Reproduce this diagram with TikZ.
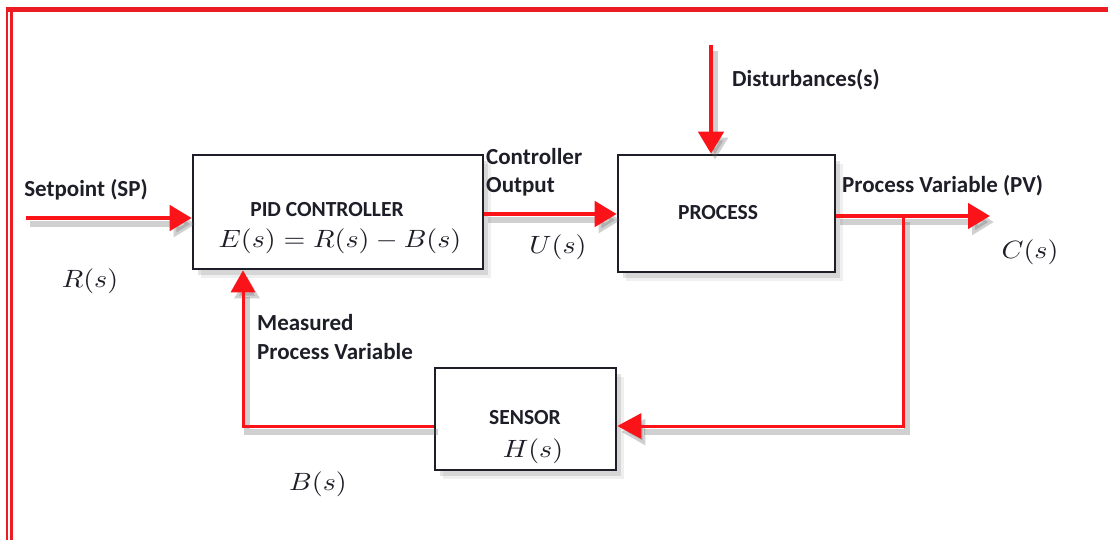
\documentclass[tikz,border=0pt]{standalone}
\usepackage{fontspec}
\setmainfont{Carlito}
\usetikzlibrary{arrows.meta,shadows}
\definecolor{linered}{RGB}{250,20,26}
\definecolor{framered}{RGB}{236,28,36}
\definecolor{inkdark}{RGB}{30,30,40}
% math set at 10pt and enlarged, a little wider than tall
\newcommand\mth[1]{\scalebox{2.8}[2.5]{$#1$}}
\tikzset{
  blk/.style={draw=inkdark, line width=2.6pt, fill=white,
    drop shadow={shadow xshift=8pt,shadow yshift=-9pt,opacity=.12},
    drop shadow={shadow xshift=5pt,shadow yshift=-6pt,opacity=.22}},
  title/.style={text=inkdark, font=\fontsize{21.5}{24}\selectfont\bfseries, inner sep=0pt},
  lbl/.style={text=inkdark, font=\fontsize{23}{28.5}\selectfont\bfseries, inner sep=0pt, align=left},
  mathlbl/.style={text=inkdark, inner sep=0pt},
  lineshade/.style={preaction={draw=black!60, opacity=.3, line width=5.5pt,
    transform canvas={xshift=4pt,yshift=-6pt}}},
  flow/.style={draw=linered, line width=4.5pt, lineshade,
    -{Triangle[length=22pt,width=25pt]}},
  fb/.style={draw=linered, line width=3pt, lineshade},
  fbarrow/.style={fb, -{Triangle[length=24pt,width=25pt]}},
}
\begin{document}
\begin{tikzpicture}[x=1pt,y=-1pt]
\useasboundingbox (0,0) rectangle (1108,540);
\fill[white] (0,0) rectangle (1108,540);

% frame along the left and top edges
\draw[framered, line width=1.5pt] (7,8) -- (7,540);
\draw[framered, line width=3.6pt] (11.5,8) -- (11.5,540);
\draw[framered, line width=5.5pt] (6.2,9.5) -- (1108,9.5);

% blocks
\node[blk, minimum width=290pt, minimum height=114pt] (pid) at (338,212) {};
\node[blk, minimum width=217pt, minimum height=117pt] (proc) at (726.5,213.5) {};
\node[blk, minimum width=181pt, minimum height=102pt] (sen) at (525.5,419) {};

\node[title] (pidtitle) at (327,210) {PID CONTROLLER};
\node[mathlbl] (pideq) at (340,241) {\mth{E(s)=R(s)-B(s)}};
\node[title] (proctitle) at (718,213) {PROCESS};
\node[title] (sentitle) at (525,418) {SENSOR};
\node[mathlbl] (senH) at (533,451) {\mth{H(s)}};

% reference input
\coordinate (spstart) at (26,218);
\draw[flow] (spstart) -- (spstart -| pid.west);
\node[lbl] (splbl) at (86,190) {Setpoint (SP)};
\node[mathlbl] (rs) at (90,281) {\mth{R(s)}};

% controller output
\draw[flow] ([yshift=-2pt]pid.east) -- ([yshift=-2pt]pid.east -| proc.west);
\node[lbl, anchor=west] (colbl) at (486,172) {Controller\\Output};
\node[mathlbl] (us) at (558,247) {\mth{U(s)}};

% disturbance input
\coordinate (dstart) at (711,45);
\draw[flow] (dstart) -- (dstart |- proc.north);
\node[lbl, anchor=west] (dlbl) at (732,80) {Disturbances(s)};

% process variable output
\coordinate (pvend) at (990,216);
\draw[flow] (pvend -| proc.east) -- (pvend);
\node[lbl, anchor=west] (pvlbl) at (842,186) {Process Variable (PV)};
\node[mathlbl] (cs) at (1030,252) {\mth{C(s)}};

% feedback path through the sensor
\coordinate (br) at (903,216);
\coordinate (brdown) at (903,426);
\draw[fbarrow] (br) -- (brdown) -- (brdown -| sen.east);
\coordinate (fbcorner) at (243,426);
\draw[fb, -{Triangle[length=22pt,width=24pt]}] (fbcorner -| sen.west) -- (fbcorner) -- (fbcorner |- pid.south);
\node[lbl, anchor=west] (mlbl) at (257,337) {Measured\\Process Variable};
\node[mathlbl] (bs) at (318,484) {\mth{B(s)}};
\end{tikzpicture}
\end{document}
